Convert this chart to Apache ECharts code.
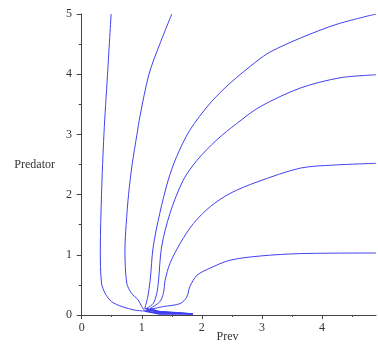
<!DOCTYPE html>
<html>
<head>
<meta charset="utf-8">
<script src="https://cdn.jsdelivr.net/npm/echarts@6/dist/echarts.min.js"></script>
<style>
  html, body { margin: 0; padding: 0; background: #fff; }
  #chart { width: 378px; height: 345px; }
</style>
</head>
<body>
<div id="chart"></div>
<script>
// trajectories: prey (x) and predator (y)
const prey1 = [0.49, 0.43, 0.37, 0.33, 0.31, 0.33, 0.39, 0.5, 0.67, 0.89, 1.05];
const pred1 = [5, 4, 3, 2, 1.08, 0.53, 0.36, 0.22, 0.14, 0.08, 0.066];

const prey2 = [1.5, 1.3, 1.12, 0.97, 0.92, 0.84, 0.78, 0.74, 0.72, 0.75, 0.83, 0.94, 1.0, 1.05];
const pred2 = [5, 4.5, 4, 3.3, 3, 2.5, 2.0, 1.5, 1.08, 0.53, 0.36, 0.25, 0.14, 0.07];

const prey3 = [4.9, 4.25, 3.64, 3.14, 2.92, 2.47, 2.14, 1.8, 1.58, 1.44, 1.3, 1.19, 1.14, 1.1, 1.05];
const pred3 = [5, 4.83, 4.6, 4.37, 4.22, 3.85, 3.52, 3.07, 2.63, 2.24, 1.69, 1.13, 0.58, 0.3, 0.11];

const prey4 = [4.9, 4.3, 3.64, 2.97, 2.58, 2.25, 1.92, 1.69, 1.47, 1.33, 1.28, 1.25, 1.19, 1.08];
const pred4 = [3.99, 3.94, 3.77, 3.46, 3.18, 2.91, 2.57, 2.24, 1.69, 1.13, 0.58, 0.36, 0.19, 0.11];

const prey5 = [4.9, 4.19, 3.64, 2.92, 2.47, 2.14, 1.86, 1.64, 1.47, 1.39, 1.36, 1.3, 1.14];
const pred5 = [2.52, 2.49, 2.44, 2.21, 2.02, 1.8, 1.52, 1.19, 0.86, 0.58, 0.36, 0.22, 0.11];

const prey6 = [4.9, 3.64, 2.97, 2.47, 2.14, 1.92, 1.8, 1.75, 1.64, 1.36, 1.08];
const pred6 = [1.03, 1.02, 0.98, 0.91, 0.78, 0.66, 0.47, 0.3, 0.19, 0.14, 0.08];

// all trajectories then run along the prey axis to the same end point
const tailX = [1.3, 1.85];
const tailY = [0.015, 0.025, 0.035, 0.045, 0.05, 0.06];
const tailEndY = 0.02;

const xTicks = [0, 1, 2, 3, 4];
const xMinorTicks = [0.5, 1.5, 2.5, 3.5, 4.5];

const curves = [[prey1, pred1], [prey2, pred2], [prey3, pred3], [prey4, pred4], [prey5, pred5], [prey6, pred6]];

const chart = echarts.init(document.getElementById('chart'));
const axisColor = '#444';
const lineColor = '#4040f0';
const labelFont = { fontFamily: 'Liberation Serif', fontSize: 12, color: '#333' };

const series = [];
curves.forEach(function (c, k) {
    const pts = c[0].map(function (x, i) { return [x, c[1][i]]; });
    series.push({
        type: 'line',
        data: pts,
        showSymbol: false,
        smooth: 0.3,
        lineStyle: { color: lineColor, width: 1 }
    });
    const last = pts[pts.length - 1];
    series.push({
        type: 'line',
        data: [last, [tailX[0], tailY[k]], [tailX[1], tailEndY]],
        showSymbol: false,
        lineStyle: { color: lineColor, width: 1.3 }
    });
});

chart.setOption({
    animation: false,
    grid: { left: 79, right: 2, top: 14, bottom: 30, containLabel: false, outerBoundsMode: 'none' },
    xAxis: [
        {
            type: 'value',
            min: -0.045,
            max: 4.9,
            name: 'Prev',
            nameLocation: 'middle',
            nameGap: 16,
            nameMoveOverlap: false,
            nameTextStyle: labelFont,
            axisLine: { lineStyle: { color: axisColor } },
            axisTick: { customValues: xTicks, length: 4, lineStyle: { color: axisColor } },
            axisLabel: Object.assign({ customValues: xTicks, margin: 7 }, labelFont),
            splitLine: { show: false }
        },
        {
            type: 'value',
            min: -0.045,
            max: 4.9,
            position: 'bottom',
            axisLine: { show: false },
            axisTick: { customValues: xMinorTicks, length: 2, lineStyle: { color: axisColor } },
            axisLabel: { show: false },
            splitLine: { show: false }
        }
    ],
    yAxis: {
        type: 'value',
        min: 0,
        max: 5,
        interval: 1,
        name: 'Predator',
        nameLocation: 'middle',
        nameRotate: 0,
        nameGap: 24,
        nameMoveOverlap: false,
        nameTextStyle: labelFont,
        axisLine: { show: true, lineStyle: { color: axisColor } },
        axisTick: { show: true, length: 5, lineStyle: { color: axisColor } },
        minorTick: { show: true, splitNumber: 2, length: 3, lineStyle: { color: axisColor } },
        axisLabel: Object.assign({ margin: 7 }, labelFont),
        splitLine: { show: false }
    },
    series: series
});
</script>
</body>
</html>
